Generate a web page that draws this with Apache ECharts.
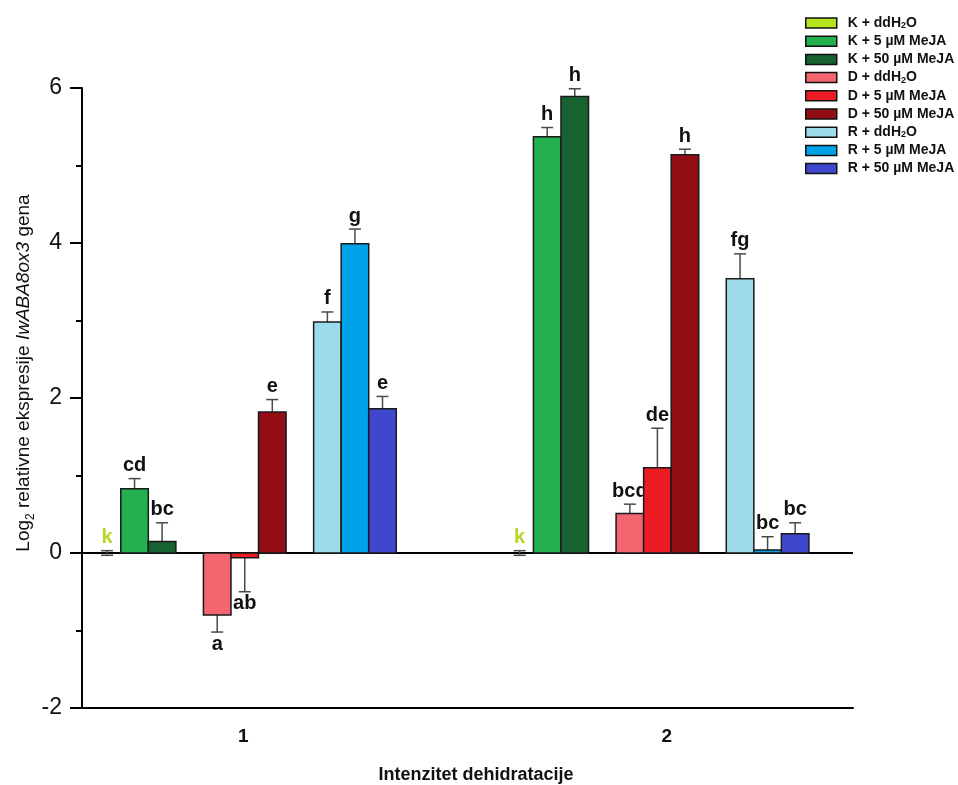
<!DOCTYPE html>
<html><head><meta charset="utf-8">
<script src="https://cdn.jsdelivr.net/npm/echarts@6/dist/echarts.min.js"></script>
<style>html,body{margin:0;padding:0;background:#fff}#c{width:958px;height:785px}</style>
</head><body><div id="c"></div>
<script>
// ---------- DATA ----------
const categories = ['1', '2'];
const seriesNames = ['K + ddH2O', 'K + 5 µM MeJA', 'K + 50 µM MeJA',
                     'D + ddH2O', 'D + 5 µM MeJA', 'D + 50 µM MeJA',
                     'R + ddH2O', 'R + 5 µM MeJA', 'R + 50 µM MeJA'];
const K_ddH2O = [0.00, 0.00];   const K_ddH2O_err = [0.03, 0.03]; const K_ddH2O_sig = ['k', 'k'];
const K_5     = [0.83, 5.37];   const K_5_err     = [0.13, 0.12]; const K_5_sig     = ['cd', 'h'];
const K_50    = [0.15, 5.89];   const K_50_err    = [0.24, 0.10]; const K_50_sig    = ['bc', 'h'];
const D_ddH2O = [-0.80, 0.51];  const D_ddH2O_err = [0.22, 0.12]; const D_ddH2O_sig = ['a', 'bcd'];
const D_5     = [-0.06, 1.10];  const D_5_err     = [0.44, 0.51]; const D_5_sig     = ['ab', 'de'];
const D_50    = [1.82, 5.14];   const D_50_err    = [0.16, 0.07]; const D_50_sig    = ['e', 'h'];
const R_ddH2O = [2.98, 3.54];   const R_ddH2O_err = [0.13, 0.32]; const R_ddH2O_sig = ['f', 'fg'];
const R_5     = [3.99, 0.04];   const R_5_err     = [0.19, 0.17]; const R_5_sig     = ['g', 'bc'];
const R_50    = [1.86, 0.25];   const R_50_err    = [0.16, 0.14]; const R_50_sig    = ['e', 'bc'];
const yTickValues = [-2, 0, 2, 4, 6];

// ---------- STYLE / LAYOUT ----------
const values = [K_ddH2O, K_5, K_50, D_ddH2O, D_5, D_50, R_ddH2O, R_5, R_50];
const errs   = [K_ddH2O_err, K_5_err, K_50_err, D_ddH2O_err, D_5_err, D_50_err, R_ddH2O_err, R_5_err, R_50_err];
const sigs   = [K_ddH2O_sig, K_5_sig, K_50_sig, D_ddH2O_sig, D_5_sig, D_50_sig, R_ddH2O_sig, R_5_sig, R_50_sig];
const COLORS = ['#b5e61d', '#22b14c', '#176231', '#f3666f', '#ed1c24', '#930d14', '#9cdbea', '#00a2e8', '#3f48cc'];
const SLOTS = [0, 1, 2, 4, 5, 6, 8, 9, 10];
const SLOT_W = 27.55;
const FONT = 'Liberation Sans, Arial, sans-serif';

function makeRender(si) {
  return function (params, api) {
    const xi = api.value(0), v = api.value(1), e = api.value(2);
    const sig = sigs[si][params.dataIndex];
    const p0 = api.coord([xi, 0]);
    const cx = p0[0] + (SLOTS[si] - 5) * SLOT_W;
    const y0 = p0[1];
    const yv = api.coord([xi, v])[1];
    const children = [];
    const capW = 6;
    const errStyle = { stroke: '#4a4a4a', lineWidth: 1.5 };
    let labelY, va;
    if (v > 0) {
      const ye = api.coord([xi, v + e])[1];
      children.push({ type: 'line', shape: { x1: cx, y1: yv, x2: cx, y2: ye }, style: errStyle });
      children.push({ type: 'line', shape: { x1: cx - capW, y1: ye, x2: cx + capW, y2: ye }, style: errStyle });
      labelY = ye - 3; va = 'bottom';
    } else if (v < 0) {
      const ye = api.coord([xi, v - e])[1];
      children.push({ type: 'line', shape: { x1: cx, y1: yv, x2: cx, y2: ye }, style: errStyle });
      children.push({ type: 'line', shape: { x1: cx - capW, y1: ye, x2: cx + capW, y2: ye }, style: errStyle });
      labelY = ye + 2; va = 'top';
    } else {
      const yHi = api.coord([xi, e])[1], yLo = api.coord([xi, -e])[1];
      children.push({ type: 'line', shape: { x1: cx, y1: yLo, x2: cx, y2: yHi }, style: errStyle });
      children.push({ type: 'line', shape: { x1: cx - capW, y1: yHi, x2: cx + capW, y2: yHi }, style: errStyle });
      children.push({ type: 'line', shape: { x1: cx - capW, y1: yLo, x2: cx + capW, y2: yLo }, style: errStyle });
      labelY = yHi - 3; va = 'bottom';
    }
    if (v !== 0) {
      children.push({
        type: 'rect',
        shape: { x: cx - SLOT_W / 2, y: Math.min(yv, y0), width: SLOT_W, height: Math.abs(y0 - yv) },
        style: { fill: COLORS[si], stroke: '#1a1a1a', lineWidth: 1.5 }
      });
    }
    children.push({
      type: 'text',
      style: {
        x: cx, y: labelY, text: sig, align: 'center', verticalAlign: va,
        fill: sig === 'k' ? '#b5d827' : '#111', font: 'bold 20px ' + FONT
      }
    });
    return { type: 'group', children: children };
  };
}

function legendFmt(name) {
  if (name.indexOf('H2O') >= 0) {
    return '{g|}{n|' + name.split('H2O')[0] + 'H}{s|2}{n|O}';
  }
  return '{g|}{n|' + name + '}';
}

const series = seriesNames.map(function (nm, si) {
  const s = {
    name: nm,
    type: 'custom',
    renderItem: makeRender(si),
    itemStyle: { color: COLORS[si], borderColor: '#111', borderWidth: 1.5 },
    encode: { x: 0, y: [1, 2] },
    data: categories.map(function (c, ci) { return [ci + 1, values[si][ci], errs[si][ci]]; }),
    z: 3
  };
  if (si === 0) {
    s.markLine = {
      silent: true, symbol: 'none', z: 2,
      label: { show: false },
      lineStyle: { color: '#000', width: 2, type: 'solid' },
      data: [{ yAxis: 0 }]
    };
  }
  return s;
});

const chart = echarts.init(document.getElementById('c'), null, { renderer: 'canvas' });
chart.setOption({
  backgroundColor: '#fff',
  animation: false,
  textStyle: { fontFamily: FONT },
  grid: { left: 82, right: 105, top: 88, bottom: 77, containLabel: false, outerBoundsMode: 'none' },
  legend: {
    orient: 'vertical', left: 805, top: 16, padding: 0,
    itemWidth: 31, itemHeight: 10, itemGap: 4.2, icon: 'rect',
    itemStyle: { borderColor: '#111', borderWidth: 1.5 },
    formatter: legendFmt,
    textStyle: {
      color: '#111', fontFamily: FONT, fontWeight: 'bold', fontSize: 14, lineHeight: 14,
      rich: {
        g: { width: 6 },
        n: { fontFamily: FONT, fontWeight: 'bold', fontSize: 14, lineHeight: 14, color: '#111' },
        s: { fontFamily: FONT, fontWeight: 'bold', fontSize: 9, color: '#111', verticalAlign: 'bottom' }
      }
    },
    data: seriesNames
  },
  xAxis: {
    type: 'value', min: 0.6056, max: 2.474,
    splitLine: { show: false },
    axisLine: { onZero: false, lineStyle: { color: '#000', width: 2 } },
    axisTick: { show: false },
    axisLabel: {
      customValues: [1, 2], margin: 19,
      formatter: function (v) { const c = categories[Math.round(v) - 1]; return c === '2' ? '{b|' + c + '}' : '{a|' + c + '}'; },
      rich: {
        a: { fontFamily: FONT, fontWeight: 'bold', fontSize: 19, color: '#111', padding: [0, 3, 0, 0] },
        b: { fontFamily: FONT, fontWeight: 'bold', fontSize: 19, color: '#111', padding: [0, 0, 0, 19] }
      }
    },
    name: 'Intenzitet dehidratacije', nameLocation: 'middle', nameGap: 58,
    nameTextStyle: { fontFamily: FONT, fontWeight: 'bold', fontSize: 18, color: '#111', padding: [0, 0, 0, 17] }
  },
  yAxis: {
    type: 'value', min: -2, max: 6, interval: 2,
    splitLine: { show: false },
    axisLine: { show: true, onZero: false, lineStyle: { color: '#000', width: 2 } },
    axisTick: { show: true, length: 12, lineStyle: { color: '#000', width: 2 }, customValues: yTickValues },
    minorTick: { show: true, splitNumber: 2, length: 6, lineStyle: { color: '#000', width: 2 } },
    axisLabel: { customValues: yTickValues, margin: 20, fontFamily: FONT, fontSize: 23, color: '#111' }
  },
  graphic: [{
    type: 'text', x: 24, y: 373, rotation: Math.PI / 2,
    style: {
      text: '{n|Log}{s|2}{n| relativne ekspresije }{i|IwABA8ox3}{n| gena}',
      align: 'center', verticalAlign: 'middle',
      rich: {
        n: { fontFamily: FONT, fontSize: 19, fill: '#111', color: '#111', lineHeight: 25 },
        i: { fontFamily: FONT, fontSize: 19, fontStyle: 'italic', fill: '#111', color: '#111', lineHeight: 25 },
        s: { fontFamily: FONT, fontSize: 12, fill: '#111', color: '#111', verticalAlign: 'bottom' }
      }
    }
  }],
  series: series
});
</script>
</body></html>
